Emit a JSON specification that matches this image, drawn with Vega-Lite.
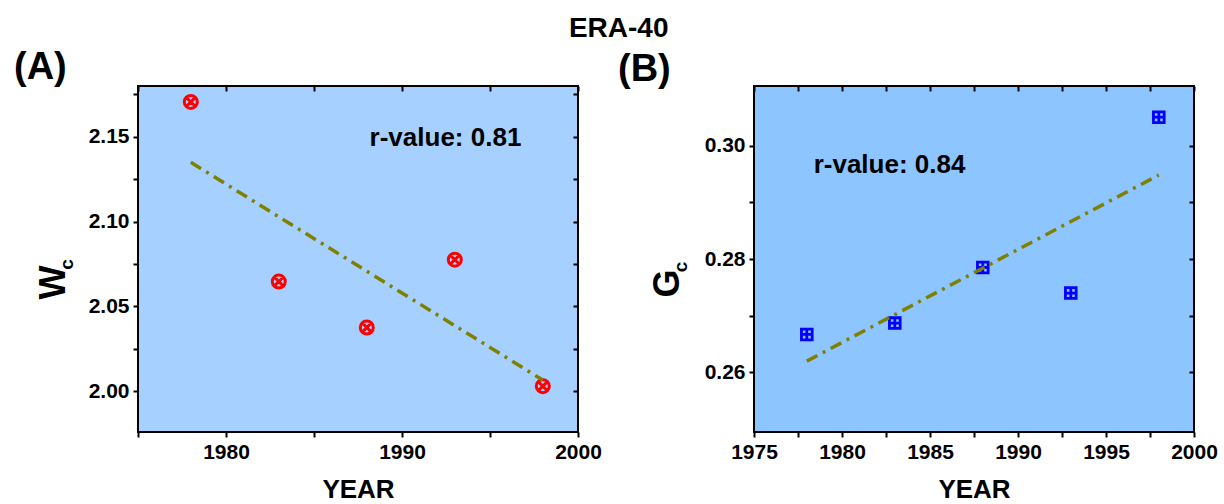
{
  "$schema": "https://vega.github.io/schema/vega-lite/v6.json",
  "background": "white",
  "padding": {"left": 13, "top": 15, "right": 5, "bottom": 0},
  "title": {"text": "ERA-40", "fontSize": 28, "font": "Liberation Sans", "fontWeight": "bold", "anchor": "middle", "offset": 5, "dx": 3, "color": "black"},
  "config": {
    "font": "Liberation Sans",
    "axis": {"labelFont": "Liberation Sans", "labelFontWeight": "bold", "labelFontSize": 21, "labelColor": "black", "titleFont": "Liberation Sans", "titleFontWeight": "bold", "titleColor": "black", "domain": false, "tickColor": "black", "tickWidth": 2, "tickSize": 5, "grid": false, "labelOverlap": false, "labelFlush": false, "labelBound": false},
    "view": {"stroke": "black", "strokeWidth": 2},
    "title": {"font": "Liberation Sans", "fontWeight": "bold", "color": "black"}
  },
  "datasets": {
    "wc": [
      {"year": 1978, "value": 2.1706},
      {"year": 1983, "value": 2.0647},
      {"year": 1988, "value": 2.0376},
      {"year": 1993, "value": 2.0776},
      {"year": 1998, "value": 2.0030}
    ],
    "wcfit": [
      {"year": 1978, "value": 2.1350},
      {"year": 1998, "value": 2.0066}
    ],
    "wcnote": [{"year": 1992.47, "value": 2.1447, "label": "r-value: 0.81"}],
    "wcsub": [{"year": 1970.95, "value": 2.0748, "label": "c"}],
    "gc": [
      {"year": 1978, "value": 0.2667},
      {"year": 1983, "value": 0.2687},
      {"year": 1988, "value": 0.2785},
      {"year": 1993, "value": 0.2740},
      {"year": 1998, "value": 0.3050}
    ],
    "gcfit": [
      {"year": 1978, "value": 0.2620},
      {"year": 1998, "value": 0.2948}
    ],
    "gcnote": [{"year": 1982.7, "value": 0.2952, "label": "r-value: 0.84"}],
    "gcsub": [{"year": 1970.85, "value": 0.2786, "label": "c"}]
  },
  "spacing": 14,
  "hconcat": [
    {
      "width": 440,
      "height": 346,
      "view": {"fill": "#a6d0ff", "stroke": "black", "strokeWidth": 2},
      "title": {"text": "(A)", "fontSize": 38, "anchor": "start", "frame": "group", "dx": -124, "offset": -4},
      "resolve": {"axis": {"x": "independent", "y": "independent"}},
      "layer": [
        {
          "data": {"name": "wc"},
          "mark": {"type": "point", "shape": "M-1,0A1,1 0 1,0 1,0A1,1 0 1,0 -1,0ZM-0.7071,-0.7071L0.7071,0.7071M-0.7071,0.7071L0.7071,-0.7071", "filled": false, "stroke": "#ff0000", "strokeWidth": 3, "size": 169, "opacity": 1},
          "encoding": {
            "x": {"field": "year", "type": "quantitative", "scale": {"domain": [1975, 2000], "nice": false, "zero": false},
              "axis": {"orient": "bottom", "title": "YEAR", "titleFontSize": 26, "titlePadding": 14, "format": "d", "values": [1975, 1980, 1985, 1990, 1995, 2000], "labelExpr": "indexof(['1980','1990','2000'], datum.label) >= 0 ? datum.label : ''", "labelPadding": 4}},
            "y": {"field": "value", "type": "quantitative", "scale": {"domain": [1.976, 2.18], "nice": false, "zero": false},
              "axis": {"orient": "left", "title": "W", "titleFontSize": 36, "format": ".2f", "values": [2.0, 2.025, 2.05, 2.075, 2.1, 2.125, 2.15, 2.175], "labelExpr": "indexof(['2.00','2.05','2.10','2.15'], datum.label) >= 0 ? datum.label : ''", "labelPadding": 4, "titleX": -85, "titleY": 196, "titleBaseline": "middle", "titleAlign": "center", "titleAngle": 270}}
          }
        },
        {
          "data": {"name": "wcfit"},
          "mark": {"type": "line", "color": "#808000", "strokeWidth": 3.5, "strokeDash": [12, 6, 3, 6]},
          "encoding": {
            "x": {"field": "year", "type": "quantitative", "axis": {"orient": "top", "title": null, "labels": false, "tickSize": 5, "offset": -5, "values": [1975, 1980, 1985, 1990, 1995, 2000]}},
            "y": {"field": "value", "type": "quantitative", "axis": {"orient": "right", "title": null, "labels": false, "tickSize": 5, "offset": -5, "values": [2.0, 2.025, 2.05, 2.075, 2.1, 2.125, 2.15, 2.175]}}
          }
        },
        {
          "data": {"name": "wcnote"},
          "mark": {"type": "text", "fontSize": 26, "fontWeight": "bold", "font": "Liberation Sans", "align": "center", "baseline": "alphabetic", "color": "black"},
          "encoding": {
            "x": {"field": "year", "type": "quantitative", "axis": null},
            "y": {"field": "value", "type": "quantitative", "axis": null},
            "text": {"field": "label"}
          }
        },
        {
          "data": {"name": "wcsub"},
          "mark": {"type": "text", "fontSize": 19, "fontWeight": "bold", "font": "Liberation Sans", "align": "center", "baseline": "middle", "angle": 270, "color": "black"},
          "encoding": {
            "x": {"field": "year", "type": "quantitative", "axis": null},
            "y": {"field": "value", "type": "quantitative", "axis": null},
            "text": {"field": "label"}
          }
        }
      ]
    },
    {
      "width": 440,
      "height": 346,
      "view": {"fill": "#8cc5ff", "stroke": "black", "strokeWidth": 2},
      "title": {"text": "(B)", "fontSize": 38, "anchor": "start", "frame": "group", "dx": -136, "offset": -4},
      "resolve": {"axis": {"x": "independent", "y": "independent"}},
      "layer": [
        {
          "data": {"name": "gc"},
          "mark": {"type": "point", "shape": "M-1,-1H1V1H-1ZM0,-1V1M-1,0H1", "filled": false, "stroke": "#0000ff", "strokeWidth": 2.8, "size": 115, "opacity": 1},
          "encoding": {
            "x": {"field": "year", "type": "quantitative", "scale": {"domain": [1975, 2000], "nice": false, "zero": false},
              "axis": {"orient": "bottom", "title": "YEAR", "titleFontSize": 26, "titlePadding": 14, "format": "d", "values": [1975, 1977.5, 1980, 1982.5, 1985, 1987.5, 1990, 1992.5, 1995, 1997.5, 2000], "labelExpr": "datum.value % 5 === 0 ? datum.label : ''", "labelPadding": 4}},
            "y": {"field": "value", "type": "quantitative", "scale": {"domain": [0.2495, 0.3105], "nice": false, "zero": false},
              "axis": {"orient": "left", "title": "G", "titleFontSize": 36, "format": ".2f", "values": [0.26, 0.27, 0.28, 0.29, 0.30], "labelExpr": "indexof(['0.26','0.28','0.30'], datum.label) >= 0 ? datum.label : ''", "labelPadding": 4, "titleX": -87, "titleY": 197, "titleBaseline": "middle", "titleAlign": "center", "titleAngle": 270}}
          }
        },
        {
          "data": {"name": "gcfit"},
          "mark": {"type": "line", "color": "#808000", "strokeWidth": 3.5, "strokeDash": [12, 6, 3, 6]},
          "encoding": {
            "x": {"field": "year", "type": "quantitative", "axis": {"orient": "top", "title": null, "labels": false, "tickSize": 5, "offset": -5, "values": [1975, 1977.5, 1980, 1982.5, 1985, 1987.5, 1990, 1992.5, 1995, 1997.5, 2000]}},
            "y": {"field": "value", "type": "quantitative", "axis": {"orient": "right", "title": null, "labels": false, "tickSize": 5, "offset": -5, "values": [0.26, 0.27, 0.28, 0.29, 0.30]}}
          }
        },
        {
          "data": {"name": "gcnote"},
          "mark": {"type": "text", "fontSize": 26, "fontWeight": "bold", "font": "Liberation Sans", "align": "center", "baseline": "alphabetic", "color": "black"},
          "encoding": {
            "x": {"field": "year", "type": "quantitative", "axis": null},
            "y": {"field": "value", "type": "quantitative", "axis": null},
            "text": {"field": "label"}
          }
        },
        {
          "data": {"name": "gcsub"},
          "mark": {"type": "text", "fontSize": 19, "fontWeight": "bold", "font": "Liberation Sans", "align": "center", "baseline": "middle", "angle": 270, "color": "black"},
          "encoding": {
            "x": {"field": "year", "type": "quantitative", "axis": null},
            "y": {"field": "value", "type": "quantitative", "axis": null},
            "text": {"field": "label"}
          }
        }
      ]
    }
  ]
}
